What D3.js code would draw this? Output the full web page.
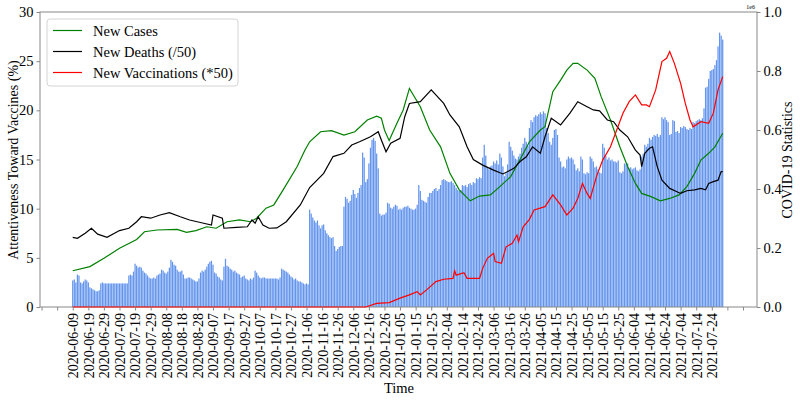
<!DOCTYPE html>
<html lang="en">
<head>
<meta charset="UTF-8">
<title>Attentiveness vs COVID-19</title>
<script src="https://d3js.org/d3.v7.min.js"></script>
<style>
  body { margin: 0; background: #fff; }
  text { font-family: "Liberation Serif", "Times New Roman", serif; fill: #000; }
</style>
</head>
<body>
<script>
// daily attentiveness (%), starting 2020-06-09, one row per 10 days
var barValues = [].concat(
  [2.7, 2.8, 2.5, 3.3, 3.2, 2.5, 2.4, 2.6, 2.8, 2.7],
  [2.5, 2.0, 1.9, 1.8, 1.7, 1.6, 1.6, 1.7, 2.4, 2.5],
  [2.4, 2.4, 2.4, 2.4, 2.4, 2.4, 2.4, 2.4, 2.4, 2.4],
  [2.4, 2.4, 2.4, 2.4, 2.4, 2.4, 3.2, 3.3, 3.2, 3.6],
  [4.4, 4.2, 4.0, 4.1, 4.0, 3.7, 3.5, 3.4, 3.2, 3.0],
  [2.9, 2.9, 3.0, 2.9, 3.2, 3.3, 3.4, 3.8, 3.7, 3.5],
  [3.4, 3.6, 4.0, 4.8, 4.6, 4.3, 4.2, 3.8, 3.6, 3.6],
  [3.7, 3.3, 2.9, 2.9, 3.0, 3.0, 2.9, 2.8, 2.7, 2.6],
  [2.6, 2.9, 3.5, 3.7, 3.6, 3.8, 4.1, 4.4, 4.6, 4.7],
  [4.3, 3.5, 3.4, 3.1, 3.0, 2.8, 2.7, 4.1, 4.9, 4.2],
  [4.1, 3.9, 3.8, 3.6, 3.7, 3.5, 3.4, 3.3, 3.0, 3.1],
  [3.2, 2.9, 2.8, 2.7, 2.9, 2.8, 3.0, 3.7, 3.5, 3.2],
  [3.0, 2.9, 3.0, 3.0, 2.9, 2.9, 2.9, 2.9, 2.9, 2.9],
  [2.9, 2.9, 2.8, 3.0, 3.9, 3.8, 3.7, 3.6, 3.5, 3.3],
  [3.1, 3.0, 2.8, 2.9, 2.7, 2.6, 2.6, 2.5, 2.4, 2.3],
  [2.4, 2.3, 9.9, 9.5, 9.1, 8.8, 8.6, 8.8, 8.3, 8.0],
  [8.3, 8.4, 7.8, 7.5, 7.3, 7.1, 7.0, 7.1, 6.2, 5.7],
  [5.9, 6.1, 6.2, 6.2, 10.2, 11.2, 11.0, 10.6, 10.8, 11.4],
  [11.9, 11.5, 11.1, 11.6, 12.1, 12.4, 15.7, 15.2, 12.7, 13.0],
  [14.6, 16.2, 17.0, 17.2, 16.9, 15.6, 14.1, 9.5, 9.3, 9.4],
  [9.4, 9.6, 10.6, 10.5, 10.1, 10.0, 10.2, 10.4, 10.3, 9.9],
  [10.0, 9.9, 10.1, 10.2, 10.2, 10.3, 10.1, 10.0, 9.9, 9.9],
  [10.0, 10.4, 12.4, 11.8, 10.9, 10.8, 10.7, 10.6, 11.2, 11.6],
  [11.6, 11.8, 12.0, 12.1, 11.8, 12.0, 12.4, 12.9, 13.0, 12.9],
  [12.8, 12.7, 12.7, 12.8, 12.6, 12.4, 12.1, 11.9, 11.8, 11.9],
  [12.4, 12.3, 12.4, 12.2, 12.5, 12.6, 12.4, 12.7, 12.6, 13.1],
  [13.0, 13.2, 13.1, 15.2, 16.5, 15.4, 14.2, 14.0, 14.3, 14.4],
  [14.8, 14.6, 14.9, 14.5, 15.6, 15.2, 14.3, 13.3, 13.6, 14.5],
  [16.8, 16.3, 15.9, 15.4, 15.1, 15.0, 15.3, 15.6, 16.2, 16.6],
  [17.2, 16.8, 16.4, 18.2, 19.0, 18.8, 19.3, 19.5, 19.4, 19.6],
  [19.8, 19.6, 19.9, 19.7, 18.2, 17.7, 16.8, 16.5, 17.2, 18.0],
  [18.1, 17.5, 15.2, 14.8, 14.2, 14.3, 14.1, 15.0, 15.3, 15.1],
  [15.2, 15.0, 14.5, 13.9, 14.1, 13.8, 15.3, 15.0, 13.6, 13.5],
  [13.7, 13.6, 15.3, 15.1, 14.8, 14.2, 14.3, 14.0, 13.7, 13.6],
  [16.6, 16.2, 15.4, 15.0, 15.2, 14.9, 15.0, 14.8, 14.8, 14.7],
  [14.9, 13.7, 13.6, 13.8, 14.6, 14.5, 14.6, 14.1, 14.2, 14.0],
  [14.1, 14.2, 13.9, 13.8, 14.0, 15.3, 15.6, 16.5, 16.3, 16.6],
  [17.2, 17.0, 17.3, 17.5, 17.4, 17.6, 17.3, 17.5, 19.3, 19.1],
  [19.3, 19.0, 18.8, 17.5, 17.6, 19.0, 18.9, 17.8, 17.9, 17.7],
  [18.3, 18.2, 18.4, 18.3, 18.1, 18.0, 18.2, 18.1, 18.8, 18.7],
  [18.9, 19.0, 19.1, 19.0, 19.2, 20.2, 22.3, 22.4, 23.2, 24.0],
  [24.1, 24.2, 24.6, 25.1, 26.5, 27.9, 27.6, 27.2]
)

// line series (right axis, units of 1e6), day offset from 2020-06-09
var casesDays = [0, 11, 20, 30, 41, 46, 54, 67, 73, 79, 86, 92, 99, 107, 114, 118, 124, 129, 135, 144, 149, 152, 159, 166, 174, 181, 189, 195, 198, 200, 203, 208, 212, 216, 223, 229, 236, 242, 248, 255, 261, 268, 274, 281, 287, 293, 300, 303, 308, 313, 317, 321, 324, 330, 335, 339, 345, 351, 356, 361, 365, 371, 377, 383, 389, 394, 399, 403, 408, 412, 417]
var casesVals = [0.123, 0.137, 0.165, 0.199, 0.229, 0.255, 0.261, 0.263, 0.253, 0.259, 0.272, 0.267, 0.289, 0.295, 0.289, 0.301, 0.335, 0.346, 0.397, 0.476, 0.532, 0.56, 0.594, 0.598, 0.583, 0.594, 0.634, 0.647, 0.64, 0.60, 0.564, 0.623, 0.668, 0.741, 0.679, 0.6, 0.543, 0.453, 0.397, 0.36, 0.376, 0.38, 0.408, 0.442, 0.5, 0.56, 0.6, 0.611, 0.73, 0.769, 0.803, 0.826, 0.826, 0.803, 0.775, 0.713, 0.634, 0.543, 0.476, 0.419, 0.385, 0.374, 0.36, 0.368, 0.38, 0.408, 0.453, 0.498, 0.521, 0.543, 0.589]

var deathsDays = [0, 3, 8, 12, 16, 22, 30, 36, 41, 44, 50, 56, 62, 69, 75, 84, 89, 90, 96, 97, 105, 112, 115, 117, 119, 122, 126, 131, 137, 146, 152, 161, 167, 174, 179, 184, 191, 196, 198, 201, 204, 210, 213, 216, 223, 230, 238, 242, 248, 253, 257, 263, 270, 276, 283, 287, 291, 295, 300, 303, 307, 313, 319, 324, 330, 334, 338, 343, 347, 351, 356, 361, 364, 365, 367, 370, 372, 375, 378, 383, 390, 394, 399, 403, 406, 408, 411, 414, 416, 417]
var deathsVals = [0.236, 0.233, 0.25, 0.267, 0.247, 0.236, 0.259, 0.267, 0.289, 0.306, 0.301, 0.312, 0.32, 0.306, 0.295, 0.284, 0.278, 0.312, 0.301, 0.267, 0.27, 0.272, 0.295, 0.284, 0.306, 0.278, 0.267, 0.268, 0.289, 0.346, 0.405, 0.453, 0.51, 0.521, 0.549, 0.56, 0.577, 0.594, 0.566, 0.526, 0.555, 0.572, 0.645, 0.69, 0.696, 0.736, 0.69, 0.651, 0.611, 0.543, 0.5, 0.481, 0.464, 0.451, 0.47, 0.493, 0.509, 0.543, 0.521, 0.577, 0.64, 0.617, 0.657, 0.696, 0.679, 0.668, 0.665, 0.634, 0.628, 0.6, 0.577, 0.532, 0.515, 0.476, 0.521, 0.538, 0.543, 0.476, 0.43, 0.402, 0.385, 0.394, 0.397, 0.402, 0.397, 0.419, 0.425, 0.43, 0.459, 0.459]

var vaccDays = [0, 188, 195, 203, 210, 216, 221, 223, 227, 233, 238, 244, 245, 246, 251, 253, 261, 263, 266, 270, 271, 275, 278, 282, 285, 286, 289, 293, 296, 303, 308, 313, 317, 321, 324, 327, 330, 332, 336, 340, 345, 349, 353, 357, 361, 365, 368, 370, 374, 378, 381, 383, 386, 390, 393, 396, 398, 403, 408, 411, 414, 417]
var vaccVals = [0, 0, 0.012, 0.015, 0.03, 0.041, 0.052, 0.041, 0.058, 0.086, 0.094, 0.097, 0.123, 0.108, 0.116, 0.097, 0.097, 0.131, 0.165, 0.182, 0.154, 0.148, 0.204, 0.216, 0.244, 0.221, 0.272, 0.297, 0.329, 0.34, 0.38, 0.346, 0.312, 0.335, 0.368, 0.419, 0.385, 0.368, 0.442, 0.498, 0.543, 0.6, 0.657, 0.696, 0.719, 0.685, 0.685, 0.679, 0.736, 0.832, 0.843, 0.866, 0.826, 0.758, 0.69, 0.634, 0.611, 0.628, 0.623, 0.657, 0.736, 0.781]

var leftTicks = [0, 5, 10, 15, 20, 25, 30]
var rightTicks = [0, 0.2, 0.4, 0.6, 0.8, 1.0]

var width = 800, height = 400
var margin = {top: 12, right: 43, bottom: 93, left: 40}
var startDate = new Date(2020, 5, 9)
var day = function (d) { return d3.timeDay.offset(startDate, d) }

var svg = d3.select('body').append('svg').attr('width', width).attr('height', height)

var x = d3.scaleTime()
  .domain([new Date(2020, 4, 19), new Date(2021, 7, 22)])
  .range([margin.left, width - margin.right])
var yL = d3.scaleLinear().domain([0, 30]).range([height - margin.bottom, margin.top])
var yR = d3.scaleLinear().domain([0, 1]).range([height - margin.bottom, margin.top])

// bars
var step = x(day(1)) - x(day(0))
svg.append('g').selectAll('rect').data(barValues).enter().append('rect')
  .attr('x', function (d, i) { return x(day(i)) - step * 0.4 })
  .attr('width', step * 0.8)
  .attr('y', function (d) { return yL(d) })
  .attr('height', function (d) { return yL(0) - yL(d) })
  .attr('fill', '#6495ED')

// frame
var fr = svg.append('g').attr('stroke', '#888').attr('fill', 'none').attr('stroke-width', 1)
fr.append('rect').attr('x', margin.left).attr('y', margin.top)
  .attr('width', width - margin.left - margin.right)
  .attr('height', height - margin.top - margin.bottom)

// lines
function drawLine(days, vals, color) {
  var pts = days.map(function (d, i) { return [d, vals[i]] })
  var line = d3.line().x(function (p) { return x(day(p[0])) }).y(function (p) { return yR(p[1]) })
  svg.append('path').datum(pts).attr('d', line)
    .attr('fill', 'none').attr('stroke', color).attr('stroke-width', 1.2)
}
drawLine(casesDays, casesVals, 'green')
drawLine(deathsDays, deathsVals, 'black')
drawLine(vaccDays, vaccVals, 'red')

// x axis: a tick every 10 days, the two at each end unlabeled
var xTicks = d3.range(-2, 44).map(function (k) { return day(k * 10) })
var xAxis = d3.axisBottom(x).tickValues(xTicks).tickSize(3.5).tickPadding(4)
  .tickFormat(function (d, i) { return (i < 2 || i > 43) ? '' : d3.timeFormat('%Y-%m-%d')(d) })
var gx = svg.append('g').attr('transform', 'translate(0,' + (height - margin.bottom) + ')').call(xAxis)
gx.select('.domain').remove()
gx.selectAll('line').attr('stroke', '#888')
gx.selectAll('text')
  .attr('transform', 'rotate(-90)')
  .attr('x', -6).attr('y', 0).attr('dy', '0.35em')
  .style('text-anchor', 'end').style('font-size', '14px')

// left axis
var gl = svg.append('g').attr('transform', 'translate(' + margin.left + ',0)')
  .call(d3.axisLeft(yL).tickValues(leftTicks).tickSize(3.5).tickPadding(3))
gl.select('.domain').remove()
gl.selectAll('line').attr('stroke', '#888')
gl.selectAll('text').style('font-size', '14.5px')

// right axis
var gr = svg.append('g').attr('transform', 'translate(' + (width - margin.right) + ',0)')
  .call(d3.axisRight(yR).tickValues(rightTicks).tickSize(3.5).tickPadding(3).tickFormat(d3.format('.1f')))
gr.select('.domain').remove()
gr.selectAll('line').attr('stroke', '#888')
gr.selectAll('text').style('font-size', '14.5px')

svg.append('text').attr('x', width - margin.right - 2).attr('y', margin.top - 3)
  .attr('text-anchor', 'end').style('font-size', '6px').text('1e6')

// axis titles
svg.append('text').attr('transform', 'translate(13,160) rotate(-90)')
  .attr('text-anchor', 'middle').attr('dy', '0.35em').style('font-size', '14px')
  .text('Attentiveness Toward Vaccines (%)')
svg.append('text').attr('transform', 'translate(787,160) rotate(-90)')
  .attr('text-anchor', 'middle').attr('dy', '0.35em').style('font-size', '14px')
  .text('COVID-19 Statistics')
svg.append('text').attr('x', 399).attr('y', 393)
  .attr('text-anchor', 'middle').style('font-size', '14.5px').text('Time')

// legend
var legendItems = [['New Cases', 'green'], ['New Deaths (/50)', 'black'], ['New Vaccinations (*50)', 'red']]
var lg = svg.append('g')
lg.append('rect').attr('x', 47).attr('y', 19).attr('width', 191).attr('height', 67).attr('rx', 3)
  .attr('fill', 'white').attr('fill-opacity', 0.85).attr('stroke', '#d4d4d4')
legendItems.forEach(function (it, i) {
  var yy = 30.5 + i * 21
  lg.append('line').attr('x1', 53).attr('x2', 82).attr('y1', yy).attr('y2', yy)
    .attr('stroke', it[1]).attr('stroke-width', 1.2)
  lg.append('text').attr('x', 93).attr('y', yy).attr('dy', '0.35em')
    .style('font-size', '14.5px').text(it[0])
})
</script>
</body>
</html>
